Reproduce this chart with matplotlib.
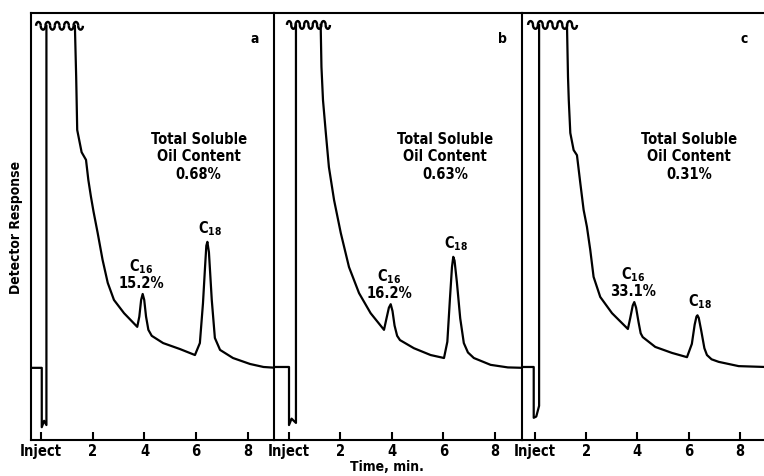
import numpy as np
import matplotlib
matplotlib.use('Agg')
import matplotlib.pyplot as plt
from matplotlib import font_manager as fm
from matplotlib.patches import Arc

# pick a condensed bold family if one is installed
NARROW = None
for f in fm.fontManager.ttflist:
    narrow = ('Narrow' in f.name or 'Condensed' in f.name
              or f.stretch in ('condensed', 'semi-condensed', 'extra-condensed', 'ultra-condensed'))
    if narrow and f.weight in ('bold', 700):
        NARROW = (f.name, f.stretch)
        break
if NARROW is None:
    FAMILY, STRETCH, FS = 'Liberation Sans', 'normal', 9.5
else:
    FAMILY, STRETCH, FS = NARROW[0], NARROW[1], 10.5

plt.rcParams['font.family'] = [FAMILY, 'DejaVu Sans']
plt.rcParams['font.weight'] = 'bold'
plt.rcParams['font.stretch'] = STRETCH
plt.rcParams['mathtext.fontset'] = 'custom'
plt.rcParams['mathtext.rm'] = FAMILY + ':bold'
plt.rcParams['mathtext.bf'] = FAMILY + ':bold'
plt.rcParams['mathtext.it'] = FAMILY + ':bold'
plt.rcParams['mathtext.default'] = 'rm'

# chromatogram traces (time in min, response 0-100)
a_time = [-0.6, 0.03, 0.03, 0.12, 0.21, 0.21, np.nan,
          1.31, 1.36, 1.40, 1.57, 1.74, 1.83, 1.93, 2.03, 2.19, 2.38, 2.58, 2.82, 3.21, 3.72,
          3.80, 3.87, 3.93, 3.99, 4.06, 4.15, 4.28, 4.72, 5.37, 5.95,
          6.14, 6.26, 6.34, 6.39, 6.43, 6.49, 6.60, 6.72, 6.92, 7.42, 8.08, 8.6, 9.1]
a_resp = [16.9, 16.9, 3.0, 4.5, 3.5, 97.0, np.nan,
          97.0, 85.0, 72.6, 67.4, 65.6, 60.9, 57.0, 53.5, 48.5, 42.2, 36.8, 32.8, 29.7, 26.5,
          28.9, 32.8, 34.2, 32.8, 28.9, 25.8, 24.4, 22.7, 21.3, 19.9,
          22.7, 32.0, 40.5, 45.5, 46.4, 44.0, 32.8, 23.9, 21.1, 19.2, 17.8, 17.1, 16.9]

b_time = [-0.6, 0.0, 0.0, 0.10, 0.27, 0.27, np.nan,
          1.23, 1.26, 1.32, 1.43, 1.55, 1.75, 2.01, 2.33, 2.72, 3.17, 3.69,
          3.78, 3.88, 3.95, 4.02, 4.10, 4.20, 4.31, 4.85, 5.50, 6.02,
          6.15, 6.25, 6.33, 6.38, 6.43, 6.52, 6.65, 6.79, 6.95, 7.18, 7.83, 8.5, 9.1]
b_resp = [17.1, 17.1, 3.5, 5.0, 4.0, 97.2, np.nan,
          97.2, 87.4, 79.6, 71.9, 63.9, 56.2, 48.5, 40.5, 34.4, 29.7, 25.8,
          28.3, 31.0, 31.8, 30.2, 26.8, 24.4, 23.4, 21.5, 19.9, 19.2,
          23.0, 33.0, 40.5, 42.9, 42.0, 37.0, 28.5, 22.7, 20.5, 19.2, 17.6, 17.0, 16.9]

c_time = [-0.6, -0.05, -0.05, 0.05, 0.16, 0.16, np.nan,
          1.25, 1.29, 1.32, 1.38, 1.51, 1.64, 1.77, 1.90, 2.03, 2.16, 2.29, 2.55, 3.01, 3.63,
          3.72, 3.82, 3.88, 3.95, 4.05, 4.13, 4.21, 4.70, 5.35, 5.94,
          6.13, 6.24, 6.31, 6.35, 6.40, 6.50, 6.62, 6.72, 6.90, 7.18, 7.96, 9.0]
c_resp = [17.1, 17.1, 5.2, 5.5, 8.0, 97.2, np.nan,
          97.2, 85.0, 79.6, 71.9, 67.9, 66.7, 60.2, 53.9, 49.9, 44.5, 38.2, 33.5, 29.7, 26.0,
          28.5, 31.5, 32.3, 31.0, 27.5, 25.0, 24.1, 21.8, 20.4, 19.4,
          22.5, 27.0, 28.9, 29.2, 28.6, 25.5, 21.5, 19.9, 18.9, 18.3, 17.3, 17.1]

panel_letters = ['a', 'b', 'c']
oil_content = ['0.68%', '0.63%', '0.31%']
c16_share = ['15.2%', '16.2%', '33.1%']
wave_start = [-0.19, -0.08, -0.27]
wave_end = [1.62, 1.59, 1.64]
tick_pos = [0, 2, 4, 6, 8]
tick_labels = ['Inject', '2', '4', '6', '8']

times = [a_time, b_time, c_time]
resps = [a_resp, b_resp, c_resp]

# axes boxes in pixels (left, right) and x limits
W, H = 764, 476
boxes = [(31, 274), (274, 522), (522, 764)]
xlims = [(-0.386, 9.005), (-0.583, 9.05), (-0.508, 8.95)]
y_bot, y_top = 440, 13

fig = plt.figure(figsize=(W / 100, H / 100), dpi=100)

for i in range(3):
    l, r = boxes[i]
    ax = fig.add_axes([l / W, 1 - y_bot / H, (r - l) / W, (y_bot - y_top) / H])
    t = np.array(times[i], dtype=float)
    y = np.array(resps[i], dtype=float)
    ax.plot(t, y, color='black', lw=1.6, solid_joinstyle='round')
    ax.set_xlim(*xlims[i])
    ax.set_ylim(0, 100)

    # wavy break at the top of the solvent peak
    top = y[5]
    n = 10
    w = (wave_end[i] - wave_start[i]) / n
    for k in range(n):
        cx = wave_start[i] + w * (k + 0.5)
        if k % 2 == 0:
            ax.add_patch(Arc((cx, top), w, 1.8, theta1=0, theta2=180, color='black', lw=1.7))
        else:
            ax.add_patch(Arc((cx, top), w, 1.8, theta1=180, theta2=360, color='black', lw=1.7))

    ax.spines['right'].set_visible(False)
    for s in ['left', 'top', 'bottom']:
        ax.spines[s].set_linewidth(1.5)
    ax.set_yticks([])
    ax.set_xticks(tick_pos)
    ax.set_xticklabels(tick_labels, fontsize=FS, fontweight='bold')
    ax.tick_params(axis='x', direction='in', length=6, width=1.5, pad=3)

    ax.text(0.92, 0.94, panel_letters[i], transform=ax.transAxes, fontsize=FS - 0.5,
            fontweight='bold', ha='center', va='center')
    ax.text(0.69, 0.722, 'Total Soluble\nOil Content\n' + oil_content[i],
            transform=ax.transAxes, fontsize=FS, fontweight='bold', ha='center',
            va='top', linespacing=1.2)

    # peak labels above the C16 and C18 apexes
    m16 = (t > 3.5) & (t < 4.5)
    k16 = np.nanargmax(np.where(m16, y, -1))
    ax.annotate('C$_{16}$\n' + c16_share[i], (t[k16], y[k16]), xytext=(-1, 2),
                textcoords='offset points', ha='center', va='bottom', fontsize=FS,
                fontweight='bold', linespacing=1.0)
    m18 = (t > 6.0) & (t < 7.0)
    k18 = np.nanargmax(np.where(m18, y, -1))
    ax.annotate('C$_{18}$', (t[k18], y[k18]), xytext=(2, 3),
                textcoords='offset points', ha='center', va='bottom', fontsize=FS,
                fontweight='bold')

fig.text(16 / W, 1 - 227 / H, 'Detector Response', rotation=90, ha='center',
         va='center', fontsize=FS - 0.5, fontweight='bold')
fig.text(387 / W, 1 - 467 / H, 'Time, min.', ha='center', va='center',
         fontsize=FS - 0.5, fontweight='bold')

fig.savefig('out.png', dpi=100)
